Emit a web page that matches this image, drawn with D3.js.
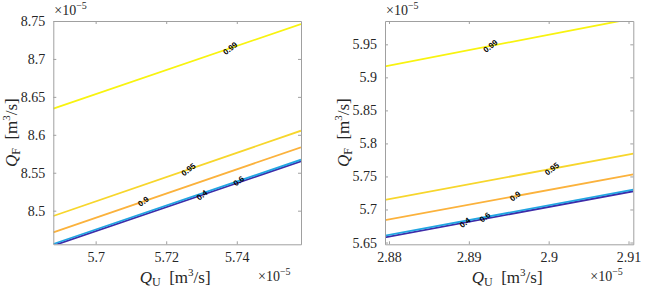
<!DOCTYPE html>
<html>
<head>
<meta charset="utf-8">
<script src="https://cdn.jsdelivr.net/npm/d3@7"></script>
<style>
  body { margin: 0; background: #fff; }
  svg { display: block; }
  .tick text { font-family: "Liberation Serif", "Times New Roman", serif; font-size: 14px; fill: #262626; }
  .ax-label { font-family: "Liberation Serif", "Times New Roman", serif; font-size: 17px; fill: #262626; }
  .mult { font-family: "Liberation Serif", "Times New Roman", serif; font-size: 14px; fill: #262626; }
  .clabel { font-family: "Liberation Sans", Arial, sans-serif; font-size: 8px; font-weight: bold; fill: #000; }
</style>
</head>
<body>
<div id="chart"></div>
<script>
// contour levels drawn in both panels
const levels = [0.4, 0.6, 0.9, 0.95, 0.99];
const levelColors = ["#3e2ba8", "#22a5e2", "#fbb23c", "#f7d62c", "#f8f30f"];

// left panel (x1e-5)
const leftXDomain = [5.688, 5.7582];
const leftYDomain = [8.4557, 8.75];
const leftXTicks = [5.70, 5.72, 5.74];
const leftYTicks = [8.50, 8.55, 8.60, 8.65, 8.70, 8.75];
const leftQFStart = [8.4540, 8.4561, 8.4715, 8.4930, 8.6344];
const leftQFEnd = [8.5651, 8.5672, 8.5836, 8.6054, 8.7460];
const leftLabelQU = [5.7301, 5.7405, 5.7135, 5.7263, 5.7381];

// right panel (x1e-5)
const rightXDomain = [2.8795, 2.9106];
const rightYDomain = [5.6473, 5.9853];
const rightXTicks = [2.88, 2.89, 2.90, 2.91];
const rightYTicks = [5.65, 5.70, 5.75, 5.80, 5.85, 5.90, 5.95];
const rightQFStart = [5.6579, 5.6603, 5.6840, 5.7146, 5.9167];
const rightQFEnd = [5.7276, 5.7300, 5.7530, 5.7845, 5.9892];
const rightLabelQU = [2.8895, 2.8920, 2.8958, 2.9004, 2.8927];

const W = 665, H = 292;
const svg = d3.select("#chart").append("svg").attr("width", W).attr("height", H);

function addLabel(g, sub) {
  g.append("tspan").attr("font-style", "italic").text("Q");
  g.append("tspan").attr("font-size", "12px").attr("dy", 3).text(sub);
  g.append("tspan").attr("dy", -3).text("\u2002[m");
  g.append("tspan").attr("font-size", "11px").attr("dy", -7).text("3");
  g.append("tspan").attr("dy", 7).text("/s]");
}

function addMult(x, y) {
  const t = svg.append("text").attr("class", "mult").attr("x", x).attr("y", y);
  t.append("tspan").text("\u00d710");
  t.append("tspan").attr("font-size", "10px").attr("dy", -6).text("\u22125");
}

function drawPanel(opt) {
  const { left, right, top, bottom } = opt.box;
  const x = d3.scaleLinear().domain(opt.xDomain).range([left, right]);
  const y = d3.scaleLinear().domain(opt.yDomain).range([bottom, top]);
  const g = svg.append("g");

  const clipId = "clip-" + opt.id;
  svg.append("defs").append("clipPath").attr("id", clipId)
    .append("rect").attr("x", left).attr("y", top)
    .attr("width", right - left).attr("height", bottom - top);

  const lines = levels.map((lv, i) => ({
    level: lv,
    color: levelColors[i],
    pts: [[opt.xDomain[0], opt.qfStart[i]], [opt.xDomain[1], opt.qfEnd[i]]],
    labelX: opt.labelQU[i]
  }));

  const lineGen = d3.line().x(d => x(d[0])).y(d => y(d[1]));
  g.append("g").attr("clip-path", `url(#${clipId})`)
    .selectAll("path").data(lines).join("path")
    .attr("d", d => lineGen(d.pts))
    .attr("fill", "none")
    .attr("stroke", d => d.color)
    .attr("stroke-width", 1.8);

  // axes: ticks inward, mirrored on top/right
  const axisColor = "#a0a0a0";
  const ax = (gen, tr, vals, labels) => {
    const a = g.append("g").attr("transform", tr)
      .call(gen.tickValues(vals).tickSizeInner(-3).tickSizeOuter(0).tickPadding(8)
        .tickFormat(labels ? (d => String(+d.toFixed(2))) : () => ""));
    a.select(".domain").attr("stroke", axisColor);
    a.selectAll(".tick line").attr("stroke", axisColor);
    return a;
  };
  ax(d3.axisBottom(x), `translate(0,${bottom})`, opt.xTicks, true);
  ax(d3.axisTop(x), `translate(0,${top})`, opt.xTicks, false);
  ax(d3.axisLeft(y), `translate(${left},0)`, opt.yTicks, true);
  ax(d3.axisRight(y), `translate(${right},0)`, opt.yTicks, false);

  // contour labels
  g.selectAll("text.clabel").data(lines).join("text")
    .attr("class", "clabel")
    .attr("text-anchor", "middle")
    .attr("dy", "0.35em")
    .attr("transform", d => {
      const t = (d.labelX - opt.xDomain[0]) / (opt.xDomain[1] - opt.xDomain[0]);
      const qf = d.pts[0][1] + t * (d.pts[1][1] - d.pts[0][1]);
      return `translate(${x(d.labelX)},${y(qf)}) rotate(-38)`;
    })
    .text(d => String(d.level));

  // axis titles
  const xl = g.append("text").attr("class", "ax-label")
    .attr("x", (left + right) / 2 - 2).attr("y", 283).attr("text-anchor", "middle");
  addLabel(xl, "U");
  const yl = g.append("text").attr("class", "ax-label")
    .attr("transform", `translate(${opt.yLabelX},${(top + bottom) / 2}) rotate(-90)`)
    .attr("text-anchor", "middle");
  addLabel(yl, "F");

  addMult(left + 1, 15);
  addMult(right - 43, 281);
}

drawPanel({
  id: "l", box: { left: 53.3, right: 301, top: 21, bottom: 244.3 },
  xDomain: leftXDomain, yDomain: leftYDomain, xTicks: leftXTicks, yTicks: leftYTicks,
  qfStart: leftQFStart, qfEnd: leftQFEnd, labelQU: leftLabelQU, yLabelX: 17
});
drawPanel({
  id: "r", box: { left: 385, right: 633.3, top: 21, bottom: 244.3 },
  xDomain: rightXDomain, yDomain: rightYDomain, xTicks: rightXTicks, yTicks: rightYTicks,
  qfStart: rightQFStart, qfEnd: rightQFEnd, labelQU: rightLabelQU, yLabelX: 349
});
</script>
</body>
</html>
